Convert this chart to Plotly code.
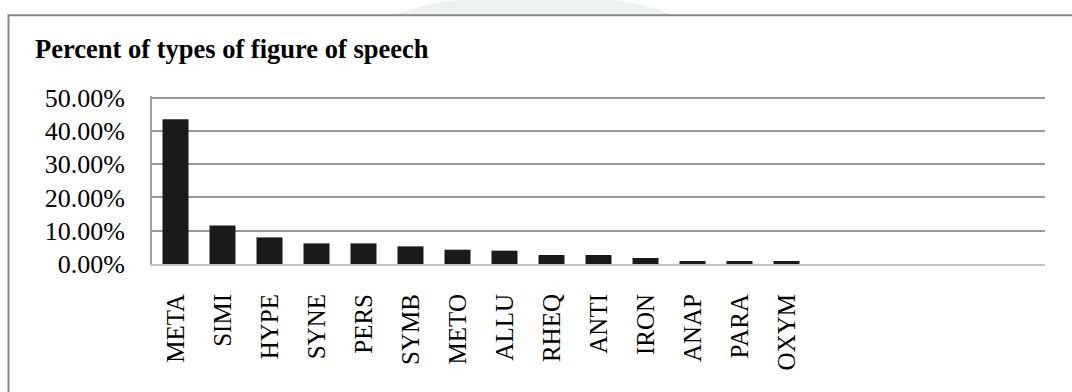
import plotly.graph_objects as go

# Figure-of-speech types and their share of all occurrences (percent)
categories = ["META", "SIMI", "HYPE", "SYNE", "PERS", "SYMB", "METO",
              "ALLU", "RHEQ", "ANTI", "IRON", "ANAP", "PARA", "OXYM"]
percent = [43.5, 11.6, 8.0, 6.2, 6.2, 5.3, 4.3, 4.0, 2.7, 2.7, 1.8, 0.9, 0.9, 0.9]
y_ticks = [0, 10, 20, 30, 40, 50]
y_tick_labels = [f"{v:.2f}%" for v in y_ticks]
n_slots = 19  # category slots on the axis; the trailing ones stay empty

W, H = 1072, 392
L, R, T, B = 152, 27, 95.5, 128
PW, PH = W - L - R, H - T - B
Y_MAX = 50.5  # a little above 50 so the top gridline is not clipped


def px_x(px):
    return (px - L) / PW


def px_y(py):
    return (H - B - py) / PH


FONT = "Liberation Serif, Times New Roman, serif"

fig = go.Figure(
    go.Bar(
        x=categories,
        y=percent,
        marker=dict(color="#1a1a1a", line=dict(width=0)),
        hoverinfo="x+y",
    )
)

# Light page decoration behind the top edge of the frame
fig.add_shape(
    type="path",
    xref="paper", yref="paper",
    path=(f"M {px_x(390)} {px_y(14.5)} "
          f"C {px_x(420)} {px_y(6)}, {px_x(440)} {px_y(0)}, {px_x(470)} {px_y(-2)} "
          f"L {px_x(600)} {px_y(-2)} "
          f"C {px_x(630)} {px_y(0)}, {px_x(650)} {px_y(6)}, {px_x(675)} {px_y(14.5)} Z"),
    fillcolor="#eef2ee",
    line=dict(width=0),
    layer="below",
)

# Outer chart frame (runs off the right and bottom edges)
fig.add_shape(
    type="rect",
    xref="paper", yref="paper",
    x0=px_x(8.5), x1=px_x(1090),
    y0=px_y(410), y1=px_y(14.5),
    line=dict(color="#878787", width=2),
    fillcolor="rgba(0,0,0,0)",
    layer="below",
)

fig.update_layout(
    width=W, height=H,
    margin=dict(l=L, r=R, t=T, b=B, pad=0),
    paper_bgcolor="white",
    plot_bgcolor="white",
    showlegend=False,
    bargap=0.447,
    font=dict(family=FONT, color="black"),
    title=dict(
        text="<b>Percent of types of figure of speech</b>",
        font=dict(family=FONT, size=26.5, color="black"),
        xref="container", yref="container",
        x=35 / W, xanchor="left",
        y=1 - 49 / H, yanchor="middle",
    ),
    xaxis=dict(
        type="category",
        range=[-0.5, n_slots - 0.5],
        tickangle=-90,
        tickfont=dict(family=FONT, size=25, color="black"),
        ticks="",
        ticklabelstandoff=18,
        showgrid=False,
        showline=True,
        linecolor="#c4c4c4",
        linewidth=2,
        zeroline=False,
    ),
    yaxis=dict(
        range=[0, Y_MAX],
        tickvals=y_ticks,
        ticktext=y_tick_labels,
        tickfont=dict(family=FONT, size=26, color="black"),
        ticks="",
        ticklabelstandoff=20,
        showgrid=True,
        gridcolor="#9a9a9a",
        gridwidth=2,
        showline=True,
        linecolor="#a0a0a0",
        linewidth=2,
        zeroline=False,
    ),
)

fig.write_html("out.html")
